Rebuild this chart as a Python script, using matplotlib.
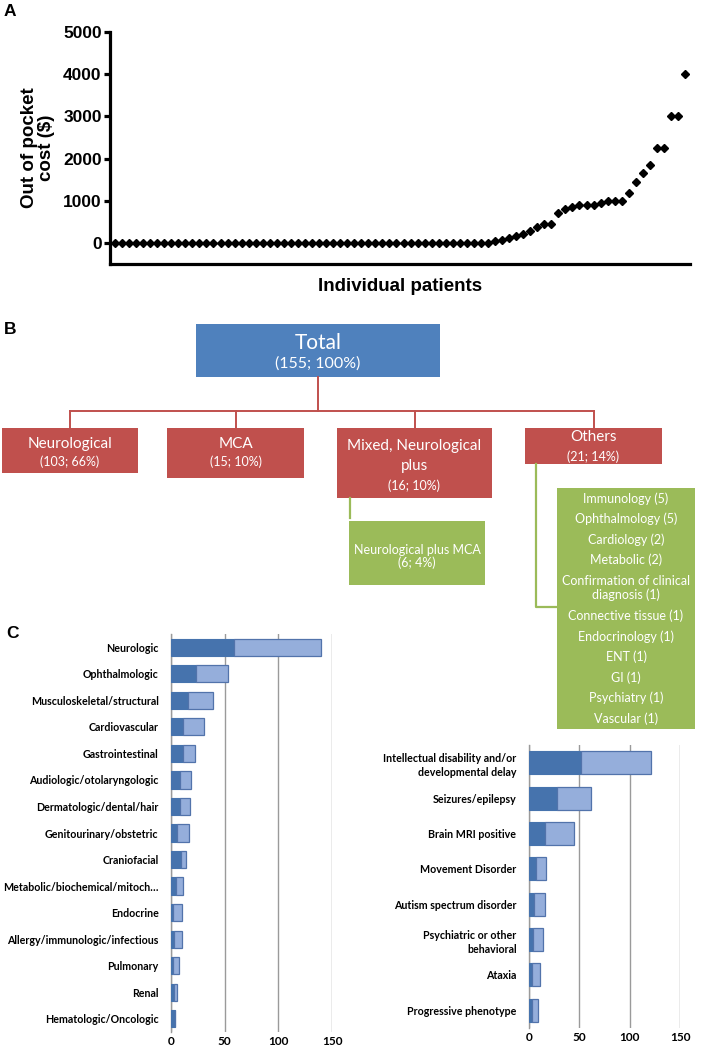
import matplotlib
matplotlib.use('Agg')
import numpy as np
import matplotlib.pyplot as plt
import matplotlib.patches as pch

W, H = 701, 1050

# ---- panel A: out of pocket cost per patient (sorted)
cost = [0, 0, 0, 0, 0, 0, 0, 0, 0, 0, 0, 0, 0, 0, 0, 0, 0, 0,
        0, 0, 0, 0, 0, 0, 0, 0, 0, 0, 0, 0, 0, 0, 0, 0, 0, 0,
        0, 0, 0, 0, 0, 0, 0, 0, 0, 0, 0, 0, 0, 0, 0, 0, 0, 0,
        40, 80, 125, 165, 200, 285, 385, 450, 450, 700, 800, 850,
        900, 900, 900, 950, 1000, 1000, 1000, 1175, 1450, 1650, 1850,
        2250, 2250, 3000, 3000, 4000]
cost_ticks = [0, 1000, 2000, 3000, 4000, 5000]

# ---- panel B: flowchart
total_n = 155
groups = ['Neurological', 'MCA', 'Mixed, Neurological\nplus', 'Others']
group_n = [103, 15, 16, 21]
group_pct = [66, 10, 10, 14]
sub_name = 'Neurological plus MCA'
sub_n, sub_pct = 6, 4
others = ['Immunology', 'Ophthalmology', 'Cardiology', 'Metabolic',
          'Confirmation of clinical\ndiagnosis', 'Connective tissue',
          'Endocrinology', 'ENT', 'GI', 'Psychiatry', 'Vascular']
others_n = [5, 5, 2, 2, 1, 1, 1, 1, 1, 1, 1]

# ---- panel C
c_cats = ['Neurologic', 'Ophthalmologic', 'Musculoskeletal/structural',
          'Cardiovascular', 'Gastrointestinal', 'Audiologic/otolaryngologic',
          'Dermatologic/dental/hair', 'Genitourinary/obstetric', 'Craniofacial',
          'Metabolic/biochemical/mitoch\u2026', 'Endocrine',
          'Allergy/immunologic/infectious', 'Pulmonary', 'Renal',
          'Hematologic/Oncologic']
c_dark = [59, 23, 16, 11, 11, 8, 8, 6, 9, 5, 2, 3, 2, 3, 4]
c_light = [81, 30, 23, 20, 11, 11, 10, 11, 5, 6, 8, 7, 5, 3, 0]

# ---- panel D
d_cats = ['Intellectual disability and/or\ndevelopmental delay',
          'Seizures/epilepsy', 'Brain MRI positive', 'Movement Disorder',
          'Autism spectrum disorder', 'Psychiatric or other\nbehavioral',
          'Ataxia', 'Progressive phenotype']
d_dark = [52, 28, 16, 7, 5, 4, 3, 3]
d_light = [69, 34, 29, 10, 11, 10, 8, 6]
bar_ticks = [0, 50, 100, 150]

BLUE = '#4f81bd'
RED = '#c0504d'
GREEN = '#9bbb59'
DARK = '#4673ad'
LIGHT = '#95aedb'
EDGE = '#5273ab'
GRID = '#9a9a9a'
SANS = 'Lato'
ARIAL = 'Liberation Sans'

fig = plt.figure(figsize=(W / 100, H / 100), dpi=100)


def px_axes(x0, y0, x1, y1, **kw):
    # axes placed by pixel box (top-left origin)
    return fig.add_axes([x0 / W, 1 - y1 / H, (x1 - x0) / W, (y1 - y0) / H], **kw)


# overlay for flowchart and panel letters
ov = px_axes(0, 0, W, H)
ov.set_xlim(0, W)
ov.set_ylim(H, 0)
ov.axis('off')

for letter, (lx, ly) in zip('ABCD', [(4, 12), (4, 330), (6, 634), (535, 766)]):
    ov.text(lx, ly, letter, family=ARIAL, weight='bold', fontsize=12.5,
            va='center', ha='left')

# ---- A
ax = px_axes(110, 32, 690, 264)
ax.plot(np.arange(1, len(cost) + 1), cost, 'D', color='black', ms=3.9)
ax.set_xlim(0.3, len(cost) + 0.7)
ax.set_ylim(-500, 5000)
ax.set_yticks(cost_ticks)
ax.set_xticks([])
for s in ['top', 'right']:
    ax.spines[s].set_visible(False)
for s in ['left', 'bottom']:
    ax.spines[s].set_linewidth(2.3)
ax.tick_params(axis='y', direction='out', length=4, width=2.3, pad=2)
for t in ax.get_yticklabels():
    t.set_fontfamily(ARIAL)
    t.set_fontweight('bold')
    t.set_fontsize(12.5)
ax.set_ylabel('Out of pocket\ncost ($)', family=ARIAL, weight='bold',
              fontsize=13.5, labelpad=6, linespacing=1.0)
ax.set_xlabel('Individual patients', family=ARIAL, weight='bold',
              fontsize=13.5, labelpad=10)

# ---- B
def box(x, y, w, h, color):
    ov.add_patch(pch.Rectangle((x, y), w, h, facecolor=color, edgecolor='none'))


box(196, 324, 244, 53, BLUE)
ov.text(318, 343, 'Total', color='white', family=SANS, fontsize=15,
        ha='center', va='center')
ov.text(318, 364, '(%d; 100%%)' % total_n, color='white', family=SANS,
        fontsize=11.5, ha='center', va='center')

group_boxes = [(2, 428, 136, 45), (167, 428, 137, 50), (337, 428, 155, 70),
               (525, 428, 137, 36)]
name_y = [444, 444, 456, 437]
count_y = [462, 462, 486, 457]
red_kw = dict(color=RED, lw=1.4)
ov.plot([318, 318], [377, 411], **red_kw)
centers = [bx + bw / 2 for bx, by, bw, bh in group_boxes]
ov.plot([centers[0], centers[-1]], [411, 411], **red_kw)
for i, (bx, by, bw, bh) in enumerate(group_boxes):
    ov.plot([centers[i], centers[i]], [411, by], **red_kw)
    box(bx, by, bw, bh, RED)
    ov.text(centers[i], name_y[i], groups[i], color='white', family=SANS,
            fontsize=11, ha='center', va='center', linespacing=1.5)
    ov.text(centers[i], count_y[i], '(%d; %d%%)' % (group_n[i], group_pct[i]),
            color='white', family=SANS, fontsize=9, ha='center', va='center')

green_kw = dict(color=GREEN, lw=1.6)
ov.plot([349.5, 349.5], [498, 518], **green_kw)
box(349, 521, 136, 64, GREEN)
ov.text(417, 550, sub_name, color='white', family=SANS, fontsize=9,
        ha='center', va='center')
ov.text(417, 563, '(%d; %d%%)' % (sub_n, sub_pct), color='white', family=SANS,
        fontsize=9, ha='center', va='center')

ov.plot([536, 536, 557], [464, 607, 607], **green_kw)
box(557, 488, 138, 241, GREEN)
y = 498.5
for name, n in zip(others, others_n):
    if '\n' in name:
        ov.text(626, y + 7.5, '%s (%d)' % (name, n), color='white', family=SANS,
                fontsize=9, ha='center', va='center', linespacing=1.15)
        y += 35.5
    else:
        ov.text(626, y, '%s (%d)' % (name, n), color='white', family=SANS,
                fontsize=9, ha='center', va='center')
        y += 20.5


# ---- C and D
def stacked(axb, cats, dark, light):
    pos = np.arange(len(cats))
    axb.barh(pos, dark, height=0.65, color=DARK, edgecolor=DARK, lw=0.8, zorder=3)
    axb.barh(pos, light, left=dark, height=0.65, color=LIGHT, edgecolor=EDGE,
             lw=0.9, zorder=3)
    axb.set_ylim(len(cats) - 0.5, -0.5)
    axb.set_xlim(0, 150)
    axb.set_yticks(pos)
    axb.set_yticklabels(cats, family=SANS, weight='bold', fontsize=7.7,
                        linespacing=1.35)
    axb.set_xticks(bar_ticks)
    axb.set_xticklabels([str(t) for t in bar_ticks], family=SANS,
                        weight='bold', fontsize=8.5)
    axb.tick_params(length=0)
    axb.tick_params(axis='y', pad=9)
    axb.tick_params(axis='x', pad=3)
    axb.grid(axis='x', color=GRID, lw=1.0, zorder=0)
    for s in ['top', 'right', 'bottom']:
        axb.spines[s].set_visible(False)
    axb.spines['left'].set_color(GRID)
    axb.spines['left'].set_linewidth(1.0)


axc = px_axes(171, 634, 332, 1032)
stacked(axc, c_cats, c_dark, c_light)
axd = px_axes(529, 745, 680, 1028)
stacked(axd, d_cats, d_dark, d_light)

fig.savefig('out.png', dpi=100)
